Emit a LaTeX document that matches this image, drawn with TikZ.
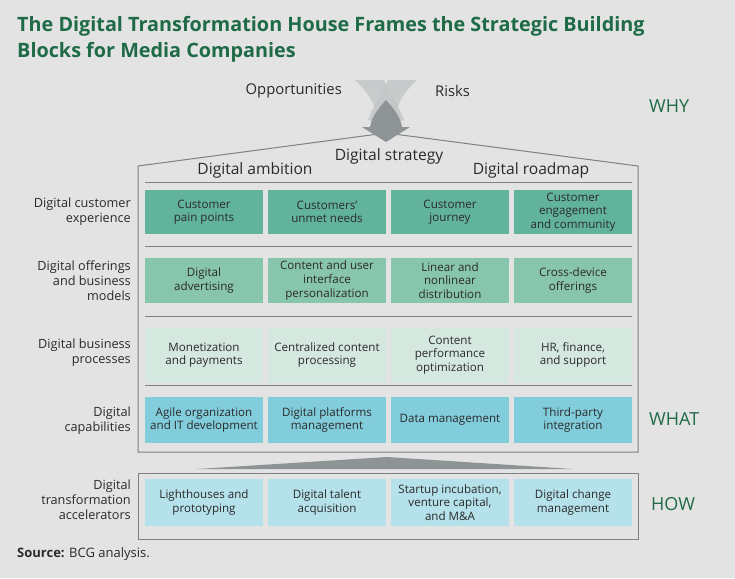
\documentclass[tikz,border=0pt]{standalone}
\usepackage{fontspec}
\setmainfont{Open Sans}
\definecolor{bg}{HTML}{E2E3E2}
\definecolor{titlegreen}{HTML}{1F6B48}
\definecolor{rowA}{HTML}{62B39B}
\definecolor{rowB}{HTML}{88C5AD}
\definecolor{rowC}{HTML}{D5E8DF}
\definecolor{rowD}{HTML}{82CDDC}
\definecolor{rowE}{HTML}{B5E1EA}
\definecolor{houseline}{HTML}{7E8182}
\definecolor{txt}{HTML}{2A2A2A}
\definecolor{bandgray}{HTML}{C3C7C7}
\definecolor{arrowgray}{HTML}{8E9495}
\begin{document}
\begin{tikzpicture}[x=1pt,y=-1pt,
  cell/.style={minimum width=118pt, inner sep=0pt, align=center, text=txt,
    font=\fontsize{11.6}{13.6}\selectfont},
  rowlabel/.style={anchor=east, align=right, text=txt, inner sep=0pt,
    font=\fontsize{12.7}{15}\selectfont},
  header/.style={text=txt, inner sep=0pt, font=\fontsize{15.6}{17}\selectfont},
  side/.style={anchor=west, text=titlegreen, inner sep=0pt, font=\fontsize{18}{20}\selectfont},
  sep/.style={draw=houseline, line width=0.8pt},
  house/.style={draw=houseline, line width=1pt}
]
\useasboundingbox (0,0) rectangle (735,578);
\fill[bg] (0,0) rectangle (735,578);

% title
\node[anchor=base west, inner sep=0pt, text=titlegreen, font=\fontsize{19.8}{22}\selectfont\bfseries] (t1) at (17,32) {The Digital Transformation House Frames the Strategic Building};
\node[anchor=base west, inner sep=0pt, text=titlegreen, font=\fontsize{19.8}{22}\selectfont\bfseries] (t2) at (17,57) {Blocks for Media Companies};

% why labels
\node[header, anchor=east, font=\fontsize{14.8}{17}\selectfont] (opp) at (342,91) {Opportunities};
\node[header, anchor=west, font=\fontsize{14.8}{17}\selectfont] (risk) at (435,91) {Risks};

% house outline
\draw[house] (138,166) -- (386,133) -- (638,166) -- (638,452) -- (138,452) -- cycle;

% arrow symbol
\fill[bandgray, opacity=0.85] (355,80) -- (384,80) .. controls (389,92) and (398,104) .. (404,120) -- (379,127) .. controls (377,105) and (368,92) .. cycle;
\fill[bandgray, opacity=0.85] (417,80) -- (388,80) .. controls (383,92) and (374,104) .. (368,120) -- (393,127) .. controls (395,105) and (404,92) .. cycle;
\fill[arrowgray] (370,127) .. controls (372,115) and (380,107) .. (386,100) .. controls (392,107) and (400,115) .. (402,127) -- cycle;
\fill[arrowgray] (362,127) -- (410,127) -- (386,142) -- cycle;

% headers
\node[header] (strat) at (389,156) {Digital strategy};
\node[header] (amb) at (255,170) {Digital ambition};
\node[header] (road) at (531,170) {Digital roadmap};

% separators
\draw[sep] (145,182) -- (632,182);
\draw[sep] (145,246) -- (632,246);
\draw[sep] (145,316) -- (632,316);
\draw[sep] (145,385) -- (632,385);

% row 1
\foreach \n/\x/\t in {a1/204/{Customer\\pain points}, a2/327/{Customers'\\unmet needs}, a3/450/{Customer\\journey}, a4/573/{Customer\\engagement\\and community}}
  \node[cell, fill=rowA, minimum height=44pt] (\n) at (\x,212) {\t};
% row 2
\foreach \n/\x/\t in {b1/204/{Digital\\advertising}, b2/327/{Content and user\\interface\\personalization}, b3/450/{Linear and\\nonlinear\\distribution}, b4/573/{Cross-device\\offerings}}
  \node[cell, fill=rowB, minimum height=45pt] (\n) at (\x,280.5) {\t};
% row 3
\foreach \n/\x/\t in {c1/204/{Monetization\\and payments}, c2/327/{Centralized content\\processing}, c3/450/{Content\\performance\\optimization}, c4/573/{HR, finance,\\and support}}
  \node[cell, fill=rowC, minimum height=55pt] (\n) at (\x,355) {\t};
% row 4
\foreach \n/\x/\t in {d1/204/{Agile organization\\and IT development}, d2/327/{Digital platforms\\management}, d3/450/{Data management}, d4/573/{Third-party\\integration}}
  \node[cell, fill=rowD, minimum height=46pt] (\n) at (\x,420) {\t};

% foundation triangle
\fill[arrowgray] (197,469) -- (387,457) -- (573,469) -- cycle;

% accelerators box
\draw[house] (138,473) rectangle (638,539);
\foreach \n/\x/\t in {e1/204/{Lighthouses and\\prototyping}, e2/327/{Digital talent\\acquisition}, e3/450/{Startup incubation,\\venture capital,\\and M\&A}, e4/573/{Digital change\\management}}
  \node[cell, fill=rowE, minimum height=47pt] (\n) at (\x,502.5) {\t};

% row labels
\node[rowlabel] (l1) at (131,212) {Digital customer\\experience};
\node[rowlabel] (l2) at (131,281) {Digital offerings\\and business\\models};
\node[rowlabel] (l3) at (131,353) {Digital business\\processes};
\node[rowlabel] (l4) at (131,421) {Digital\\capabilities};
\node[rowlabel] (l5) at (131,500) {Digital\\transformation\\accelerators};

% side labels
\node[side] (why) at (649,106) {WHY};
\node[side] (what) at (649,419) {WHAT};
\node[side] (how) at (651,504) {HOW};

% source
\node[anchor=base west, inner sep=0pt, text=txt, font=\fontsize{13}{15}\selectfont] (src) at (17,557) {\textbf{Source:} BCG analysis.};
\end{tikzpicture}
\end{document}
